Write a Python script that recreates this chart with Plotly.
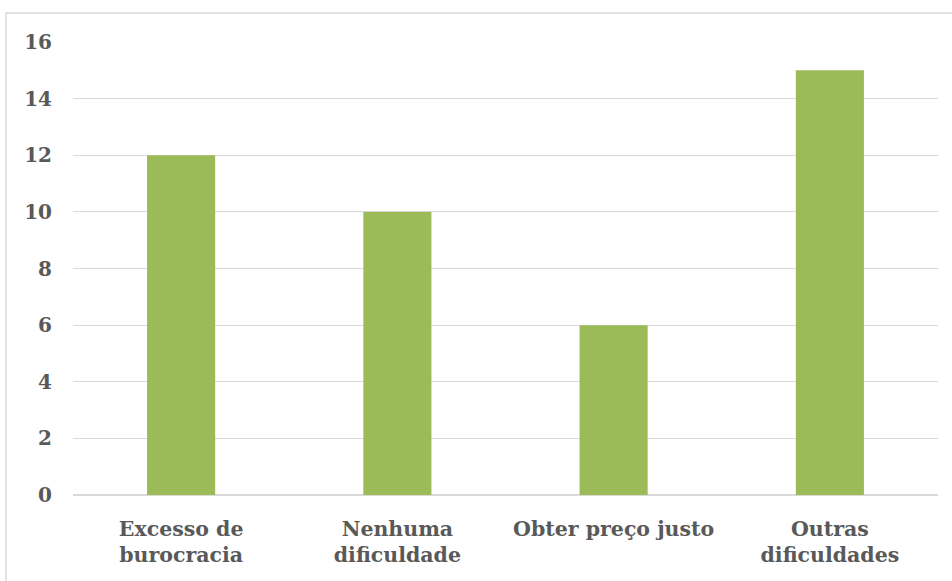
import plotly.graph_objects as go

categories = ["Excesso de<br>burocracia", "Nenhuma<br>dificuldade", "Obter preço justo", "Outras<br>dificuldades"]
values = [12, 10, 6, 15]

W, H = 952, 581
L, R, T, B = 73, 14, 42, 86
pw, ph = W - L - R, H - T - B

fig = go.Figure(go.Bar(x=categories, y=values, marker=dict(color="#9BBB59", line=dict(width=0)), width=0.315))

FAM = "DejaVu Serif"

fig.update_layout(
    width=W, height=H,
    margin=dict(l=L, r=R, t=T, b=B, autoexpand=False),
    paper_bgcolor="white", plot_bgcolor="white",
    showlegend=False,
    xaxis=dict(showgrid=False, showline=False, ticks="", automargin=False,
               tickfont=dict(size=20.5, family=FAM, color="#595959", weight="bold"), ticklabelstandoff=19),
    yaxis=dict(range=[0, 16], dtick=2, showgrid=True, gridcolor="#d9d9d9", gridwidth=1.3, automargin=False,
               zeroline=True, zerolinecolor="#d9d9d9", zerolinewidth=1.5, showline=False, ticks="",
               tickfont=dict(size=20, family=FAM, color="#595959", weight="bold"), ticklabelstandoff=20),
    shapes=[dict(type="rect", xref="paper", yref="paper",
                 x0=(6 - L) / pw, x1=1.2, y0=-0.5, y1=1 + (T - 13) / ph,
                 line=dict(color="#d9d9d9", width=1.5), layer="below")],
)

fig.write_html("out.html")
